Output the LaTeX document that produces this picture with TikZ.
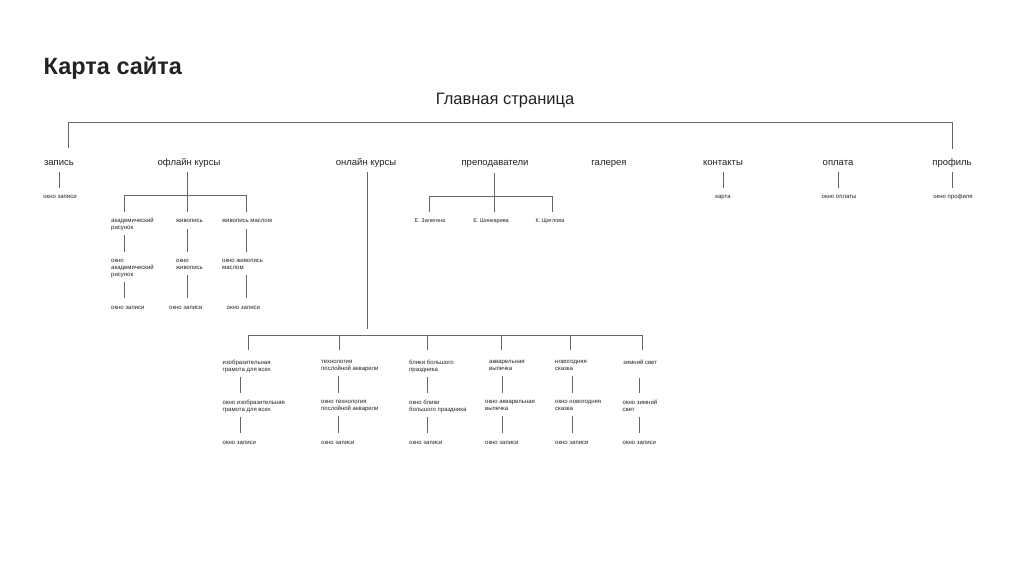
\documentclass[tikz,border=0pt]{standalone}
\usepackage{fontspec}
\setmainfont{Liberation Sans}
\definecolor{ink}{HTML}{222222}
\definecolor{lg}{HTML}{666666}
\begin{document}
\begin{tikzpicture}[x=1pt,y=-1pt,
  conn/.style={draw=lg, line width=0.8pt},
  lone/.style={font=\fontsize{9.5}{11.4}\selectfont, inner sep=0pt, text=ink, anchor=base, execute at begin node=\strut},
  sm/.style={font=\fontsize{6}{7}\selectfont, inner sep=0pt, text=ink, align=left, anchor=north west, execute at begin node=\strut, execute at end node=\strut},
  smc/.style={sm, anchor=north, align=center},
  nm/.style={font=\fontsize{5.5}{6.6}\selectfont, inner sep=0pt, text=ink, anchor=north, execute at begin node=\strut},
]
\useasboundingbox (0,0) rectangle (1024,574);
\fill[white] (0,0) rectangle (1024,574);

% titles
\node[anchor=base west, font=\fontsize{23.5}{28}\selectfont\bfseries, text=ink, inner sep=0pt] (title) at (43.5,74) {Карта сайта};
\node[anchor=base, font=\fontsize{16.5}{20}\selectfont, text=ink, inner sep=0pt] (root) at (505,104) {Главная страница};

% level 1
\node[lone] (zap) at (59,165.5) {запись};
\node[lone] (off) at (189,165.5) {офлайн курсы};
\node[lone] (onl) at (366,165.5) {онлайн курсы};
\node[lone] (pre) at (495,165.5) {преподаватели};
\node[lone] (gal) at (609,165.5) {галерея};
\node[lone] (kon) at (723,165.5) {контакты};
\node[lone] (opl) at (838,165.5) {оплата};
\node[lone] (pro) at (952,165.5) {профиль};

% top bar
\coordinate (tl) at (68,122);
\coordinate (tr) at (952,122);
\draw[conn, shorten <=9.5pt, shorten >=8.5pt] (zap.north -| tl) -- (tl) -- (tr) -- (pro.north);

% simple children
\node[smc] (zapw) at (60,193.7) {окно записи};
\node[smc] (konw) at (723,193.7) {карта};
\node[smc] (oplw) at (839,193.7) {окно оплаты};
\node[smc] (prow) at (953,193.7) {окно профиля};
\draw[conn, shorten <=3pt, shorten >=5.7pt] (zap.south) -- (zap.south |- zapw.north);
\draw[conn, shorten <=3pt, shorten >=5.7pt] (kon.south) -- (kon.south |- konw.north);
\draw[conn, shorten <=3pt, shorten >=5.7pt] (opl.south) -- (opl.south |- oplw.north);
\draw[conn, shorten <=3pt, shorten >=5.7pt] (pro.south) -- (pro.south |- prow.north);

% offline courses
\coordinate (ob) at (187,195);
\coordinate (oc1) at (124,195);
\coordinate (oc2) at (187,195);
\coordinate (oc3) at (246.5,195);
\draw[conn, shorten <=3pt] (off.south -| ob) -- (ob);
\draw[conn] (oc1) -- (oc3);
\node[sm] (a1) at (111,217.7) {академический\\рисунок};
\node[sm] (a2) at (176,217.7) {живопись};
\node[sm] (a3) at (222,217.7) {живопись маслом};
\draw[conn, shorten >=5.7pt] (oc1) -- (a1.north -| oc1);
\draw[conn, shorten >=5.7pt] (oc2) -- (a2.north -| oc2);
\draw[conn, shorten >=5.7pt] (oc3) -- (a3.north -| oc3);
\node[sm] (b1) at (111,258.7) {окно\\академический\\рисунок};
\node[sm] (b2) at (176,258.7) {окно\\живопись};
\node[sm] (b3) at (222,258.7) {окно живопись\\маслом};
\draw[conn, shorten <=3.5pt, shorten >=6.5pt] (a1.south -| oc1) -- (b1.north -| oc1);
\draw[conn, shorten <=3.5pt, shorten >=6.5pt] (a2.south -| oc2) -- (b2.north -| oc2);
\draw[conn, shorten <=3.5pt, shorten >=6.5pt] (a3.south -| oc3) -- (b3.north -| oc3);
\node[sm] (z1) at (111,304.7) {окно записи};
\node[sm] (z2) at (169,304.7) {окно записи};
\node[sm] (z3) at (226.5,304.7) {окно записи};
\draw[conn, shorten <=3.5pt, shorten >=6.5pt] (b1.south -| oc1) -- (z1.north -| oc1);
\draw[conn, shorten <=3.5pt, shorten >=6.5pt] (b2.south -| oc2) -- (z2.north -| oc2);
\draw[conn, shorten <=3.5pt, shorten >=6.5pt] (b3.south -| oc3) -- (z3.north -| oc3);

% teachers
\coordinate (tb) at (494,196);
\coordinate (t1) at (429,196);
\coordinate (t3) at (552,196);
\draw[conn, shorten <=4pt] (pre.south -| tb) -- (tb);
\draw[conn] (t1) -- (t3);
\node[nm] (n1) at (430,217.8) {Е. Залегина};
\node[nm] (n2) at (491,217.8) {Е. Шинкарева};
\node[nm] (n3) at (550,217.8) {К. Щеглова};
\draw[conn, shorten >=5.8pt] (t1) -- (n1.north -| t1);
\draw[conn, shorten >=5.8pt] (tb) -- (n2.north -| tb);
\draw[conn, shorten >=5.8pt] (t3) -- (n3.north -| t3);

% online courses
\coordinate (nb) at (367,335);
\draw[conn, shorten <=3pt, shorten >=6.5pt] (onl.south -| nb) -- (nb);
\coordinate (d1) at (248,335);
\coordinate (d2) at (339,335);
\coordinate (d3) at (427,335);
\coordinate (d4) at (501,335);
\coordinate (d5) at (570,335);
\coordinate (d6) at (642,335);
\draw[conn] (d1) -- (d6);
\coordinate (v1) at (240,0);
\coordinate (v2) at (338,0);
\coordinate (v3) at (427,0);
\coordinate (v4) at (502,0);
\coordinate (v5) at (572,0);
\coordinate (v6) at (639,0);

\node[sm] (p1) at (222.5,359.7) {изобразительная\\грамота для всех};
\node[sm] (p2) at (321,359.7) {технология\\послойной акварели};
\node[sm] (p3) at (409,359.7) {блики большого\\праздника};
\node[sm] (p4) at (489,359.7) {акварельная\\выпечка};
\node[sm] (p5) at (555,359.7) {новогодняя\\сказка};
\node[sm] (p6) at (623,359.7) {зимний свет};
\draw[conn, shorten >=9.7pt] (d1) -- (p1.north -| d1);
\draw[conn, shorten >=9.7pt] (d2) -- (p2.north -| d2);
\draw[conn, shorten >=9.7pt] (d3) -- (p3.north -| d3);
\draw[conn, shorten >=9.7pt] (d4) -- (p4.north -| d4);
\draw[conn, shorten >=9.7pt] (d5) -- (p5.north -| d5);
\draw[conn, shorten >=9.7pt] (d6) -- (p6.north -| d6);

\node[sm] (q1) at (222.5,399.7) {окно изобразительная\\грамота для всех};
\node[sm] (q2) at (321,399.7) {окно технология\\послойной акварели};
\node[sm] (q3) at (409,399.7) {окно блики\\большого праздника};
\node[sm] (q4) at (485,399.7) {окно акварельная\\выпечка};
\node[sm] (q5) at (555,399.7) {окно новогодняя\\сказка};
\node[sm] (q6) at (622.5,399.7) {окно зимний\\свет};
\draw[conn, shorten <=3.5pt, shorten >=6.5pt] (p1.south -| v1) -- (q1.north -| v1);
\draw[conn, shorten <=3.5pt, shorten >=6.5pt] (p2.south -| v2) -- (q2.north -| v2);
\draw[conn, shorten <=3.5pt, shorten >=6.5pt] (p3.south -| v3) -- (q3.north -| v3);
\draw[conn, shorten <=3.5pt, shorten >=6.5pt] (p4.south -| v4) -- (q4.north -| v4);
\draw[conn, shorten <=3.5pt, shorten >=6.5pt] (p5.south -| v5) -- (q5.north -| v5);
\draw[conn, shorten <=10.5pt, shorten >=6.5pt] (p6.south -| v6) -- (q6.north -| v6);

\node[sm] (r1) at (222.5,439.7) {окно записи};
\node[sm] (r2) at (321,439.7) {окно записи};
\node[sm] (r3) at (409,439.7) {окно записи};
\node[sm] (r4) at (485,439.7) {окно записи};
\node[sm] (r5) at (555,439.7) {окно записи};
\node[sm] (r6) at (622.5,439.7) {окно записи};
\draw[conn, shorten <=3.5pt, shorten >=6.5pt] (q1.south -| v1) -- (r1.north -| v1);
\draw[conn, shorten <=3.5pt, shorten >=6.5pt] (q2.south -| v2) -- (r2.north -| v2);
\draw[conn, shorten <=3.5pt, shorten >=6.5pt] (q3.south -| v3) -- (r3.north -| v3);
\draw[conn, shorten <=3.5pt, shorten >=6.5pt] (q4.south -| v4) -- (r4.north -| v4);
\draw[conn, shorten <=3.5pt, shorten >=6.5pt] (q5.south -| v5) -- (r5.north -| v5);
\draw[conn, shorten <=3.5pt, shorten >=6.5pt] (q6.south -| v6) -- (r6.north -| v6);
\end{tikzpicture}
\end{document}
